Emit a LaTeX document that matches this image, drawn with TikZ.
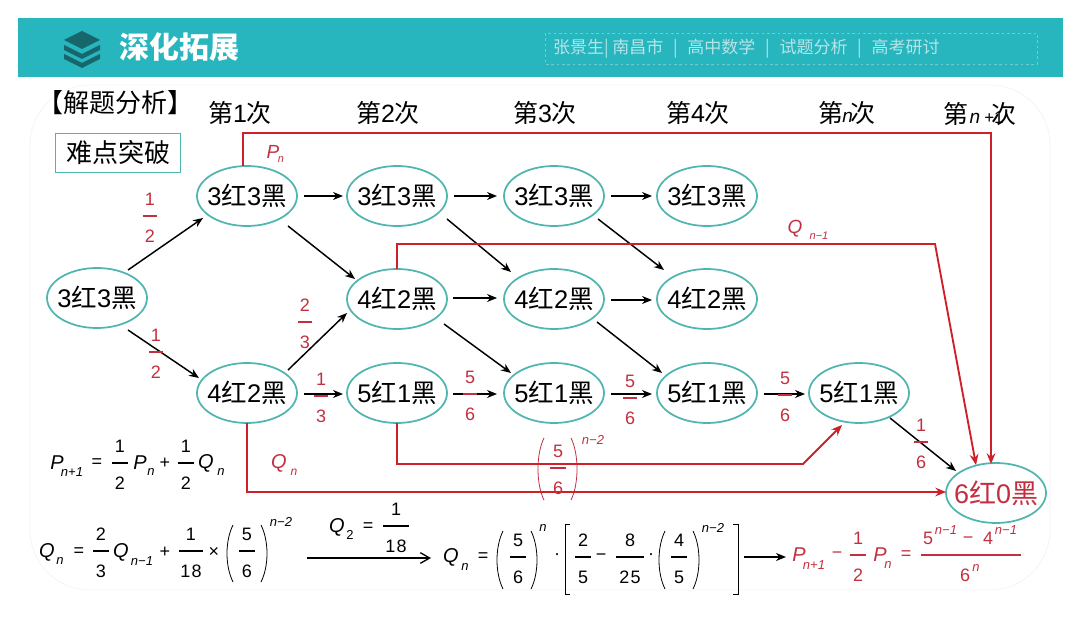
\documentclass[tikz,border=0pt]{standalone}
\usepackage{fontspec}
\setmainfont{Liberation Sans}
\newfontfamily\cjk{Noto Sans CJK SC}
\usetikzlibrary{arrows.meta,shapes.geometric}
\definecolor{band}{HTML}{27B5BE}
\definecolor{bandtxt}{HTML}{B5E5E8}
\definecolor{icon}{HTML}{17666C}
\definecolor{oval}{HTML}{4FB5AF}
\definecolor{redline}{HTML}{CF1F28}
\definecolor{redtxt}{HTML}{C23040}
\newcount\tn
% px-sized fonts (1px = .75pt)
\newcommand\px[1]{\fontsize{\dimexpr#1pt*3/4\relax}{\dimexpr#1pt*3/4\relax}\selectfont}
% generic text piece
\newcommand\T[4]{\global\advance\tn by 1 \node[txt,font=\px{#3}] (t\the\tn) at (#1,#2) {#4};}
\newcommand\I[4]{\T{#1}{#2}{#3}{\textit{#4}}}
% fraction: x, rule y, half width, num, den
\newcommand\Fr[5]{\T{#1}{\the\numexpr#2-17\relax}{18}{#4}\T{#1}{\the\numexpr#2+20\relax}{18}{#5}
  \draw[line width=.8pt] (#1-#3,#2) -- (#1+#3,#2);}
% parens: left x, right x, top y, bottom y
\newcommand\Pa[4]{\draw[line width=.6pt] (#1+5,#3) .. controls (#1-3,#3+16) and (#1-3,#4-16) .. (#1+5,#4);
  \draw[line width=.6pt] (#2-5,#3) .. controls (#2+3,#3+16) and (#2+3,#4-16) .. (#2-5,#4);}
% connector: style, from node, dx, dy, to node, dx, dy
\newcommand\Cn[7]{\draw[#1] ([shift={(#3,#4)}]#2.center) -- ([shift={(#6,#7)}]#5.center);}
\newcommand\RB[3][25.5]{\makebox[0pt]{\px{#1}#2{\cjk 红}#3{\cjk 黑}}}
\newcommand\Sp{\kern7.3pt|\kern7.3pt}
\tikzset{
  x=.75pt,y=-.75pt,
  txt/.style={inner sep=0pt,outer sep=0pt},
  oval/.style={ellipse,draw=oval,line width=1.3pt,fill=white,minimum width=75pt,minimum height=45pt,inner sep=0pt},
  arr/.style={line width=1.1pt,-{Stealth[length=7.5pt,width=6pt]}},
  redarr/.style={draw=redline,line width=1.4pt,-{Stealth[length=8pt,width=6.5pt]}},
}
\begin{document}
\begin{tikzpicture}
\useasboundingbox (0,0) rectangle (1080,623);
\fill[white] (0,0) rectangle (1080,623);
% panel
\draw[draw=black!4,line width=.6pt,rounded corners=45pt] (30,85) rectangle (1050,590);
% header
\fill[band] (18,18) rectangle (1063,77);
\fill[icon] (82,31) -- (100,40) -- (82,49) -- (64,40) -- cycle;
\fill[icon] (64,45) -- (82,54) -- (100,45) -- (100,50) -- (82,59) -- (64,50) -- cycle;
\fill[icon] (64,54) -- (82,63) -- (100,54) -- (100,59) -- (82,68) -- (64,59) -- cycle;
\node[txt,text=white,font=\cjk\bfseries\px{30}] (title) at (179,47) {深化拓展};
\draw[bandtxt,line width=.4pt,dash pattern=on 2pt off 2pt,opacity=.5] (545,33) rectangle (1037,64);
\node[txt,text=bandtxt,anchor=west,font=\cjk\px{17}] (tags) at (553,49) {张景生| 南昌市\Sp 高中数学\Sp 试题分析\Sp 高考研讨};
% titles
\node[txt,font=\cjk\px{26}] (sol) at (115,103) {【解题分析】};
\node[draw=oval,line width=1.2pt,minimum width=94pt,minimum height=29pt,inner sep=0pt,font=\cjk\px{26}] (hard) at (118,153) {难点突破};
% headings
\node[txt,font=\px{25}] (h1) at (240,113) {{\cjk 第}1{\cjk 次}};
\node[txt,font=\px{25}] (h2) at (388,113) {{\cjk 第}2{\cjk 次}};
\node[txt,font=\px{25}] (h3) at (545,113) {{\cjk 第}3{\cjk 次}};
\node[txt,font=\px{25}] (h4) at (698,113) {{\cjk 第}4{\cjk 次}};
\node[txt,font=\px{25}] (h5) at (847,113) {{\cjk 第}\kern-1pt{\px{19}\textit{n}}\kern-2pt{\cjk 次}};
\node[txt,font=\px{25}] (h6) at (980,114) {{\cjk 第}\kern1pt{\px{19}\textit{n}}\kern3pt{\px{17}+1}\kern-9pt{\cjk 次}};
% ovals
\node[oval] (s) at (97,298) {\RB{3}{3}};
\node[oval] (a1) at (247,196) {\RB{3}{3}};
\node[oval] (a2) at (397,196) {\RB{3}{3}};
\node[oval] (a3) at (554,196) {\RB{3}{3}};
\node[oval] (a4) at (707,196) {\RB{3}{3}};
\node[oval] (b2) at (397,299) {\RB{4}{2}};
\node[oval] (b3) at (554,299) {\RB{4}{2}};
\node[oval] (b4) at (707,299) {\RB{4}{2}};
\node[oval] (c1) at (247,393) {\RB{4}{2}};
\node[oval] (c2) at (397,393) {\RB{5}{1}};
\node[oval] (c3) at (554,393) {\RB{5}{1}};
\node[oval] (c4) at (707,393) {\RB{5}{1}};
\node[oval] (c5) at (859,393) {\RB{5}{1}};
\node[oval,text=redtxt] (e) at (996,493) {\RB[27]{6}{0}};
% black arrows
\Cn{arr}{s}{31}{-28}{a1}{-44}{22}
\Cn{arr}{s}{31}{32}{c1}{-48}{-15}
\Cn{arr}{a1}{57}{0}{a2}{-54}{0}
\Cn{arr}{a2}{57}{0}{a3}{-57}{0}
\Cn{arr}{a3}{57}{0}{a4}{-55}{0}
\Cn{arr}{a1}{41}{30}{b2}{-42}{-20}
\Cn{arr}{a2}{50}{23}{b3}{-43}{-27}
\Cn{arr}{a3}{44}{23}{b4}{-43}{-29}
\Cn{arr}{b2}{56}{-1}{b3}{-57}{-1}
\Cn{arr}{b3}{57}{1}{b4}{-55}{1}
\Cn{arr}{c1}{41}{-23}{b2}{-50}{14}
\Cn{arr}{b2}{47}{25}{c3}{-43}{-20}
\Cn{arr}{b3}{43}{23}{c4}{-45}{-20}
\Cn{arr}{c1}{57}{1}{c2}{-54}{1}
\Cn{arr}{c2}{56}{1}{c3}{-57}{1}
\Cn{arr}{c3}{57}{1}{c4}{-55}{1}
\Cn{arr}{c4}{57}{1}{c5}{-54}{1}
\Cn{arr}{c5}{31}{25}{e}{-40}{-22}
% red paths
\coordinate (p1) at (991,133);
\coordinate (q1) at (397,244);
\coordinate (q2) at (935,244);
\coordinate (r1) at (397,464);
\coordinate (r2) at (803,464);
\coordinate (u1) at (247,492);
\draw[redarr] ([shift={(-4,-30)}]a1.center) |- (p1) -- ([shift={(-5,-29)}]e.center);
\draw[redarr] ([shift={(0,-30)}]b2.center) -- (q1) -- (q2) -- ([shift={(-20,-28)}]e.center);
\draw[redarr] ([shift={(0,30)}]c2.center) -- (r1) -- (r2) -- ([shift={(-17,32)}]c5.center);
\draw[redarr] ([shift={(0,30)}]c1.center) -- (u1) -- ([shift={(-50,-1)}]e.center);
% red labels
\begin{scope}[color=redtxt]
\Fr{150}{216}{7}{1}{2}
\Fr{156}{352}{7}{1}{2}
\Fr{305}{322}{7}{2}{3}
\Fr{321}{396}{7}{1}{3}
\Fr{470}{394}{7}{5}{6}
\Fr{630}{398}{7}{5}{6}
\Fr{785}{395}{7}{5}{6}
\Fr{921}{442}{7}{1}{6}
\Fr{558}{468}{8}{5}{6}
\Pa{539}{576}{438}{500}
\I{593}{440}{13}{n−2}
\I{273}{152}{19}{P}
\I{281}{160}{11}{n}
\I{795}{229}{19}{Q}
\I{819}{236}{11}{n−1}
\I{279}{463}{20}{Q}
\I{294}{472}{12}{n}
% result formula
\I{799}{555}{20}{P}
\I{814}{565}{13}{n+1}
\T{837}{555}{18}{−}
\Fr{858}{555}{8}{1}{2}
\I{880}{555}{20}{P}
\I{888}{565}{13}{n}
\T{906}{555}{18}{=}
\draw[line width=.9pt] (921,555) -- (1021,555);
\T{928}{538}{18}{5}
\I{946}{530}{13}{n−1}
\T{968}{540}{18}{−}
\T{988}{538}{18}{4}
\I{1006}{530}{13}{n−1}
\T{965}{575}{18}{6}
\I{976}{568}{13}{n}
\end{scope}
% black formulas
\I{57}{463}{20}{P}
\I{72}{472}{13}{n+1}
\T{97}{463}{18}{=}
\Fr{120}{463}{8}{1}{2}
\I{140}{463}{20}{P}
\I{151}{472}{13}{n}
\T{165}{463}{18}{+}
\Fr{186}{463}{8}{1}{2}
\I{206}{463}{20}{Q}
\I{221}{472}{13}{n}
%
\I{47}{552}{20}{Q}
\I{60}{561}{13}{n}
\T{79}{552}{18}{=}
\Fr{101}{551}{8}{2}{3}
\I{121}{552}{20}{Q}
\I{142}{561}{13}{n−1}
\T{165}{552}{18}{+}
\Fr{191}{551}{12}{1}{1\kern1pt8}
\T{214}{552}{18}{×}
\Fr{247}{551}{8}{5}{6}
\Pa{228}{266}{525}{582}
\I{281}{522}{13}{n−2}
%
\I{337}{527}{20}{Q}
\T{350}{535}{13}{2}
\T{368}{527}{18}{=}
\Fr{396}{526}{13}{1}{1\kern1pt8}
\coordinate (ar1) at (307,558);
\coordinate (ar2) at (431,558);
\draw[line width=1pt,-{Straight Barb[length=7pt,width=8pt]}] (ar1) -- (ar2);
\I{451}{557}{20}{Q}
\I{465}{567}{13}{n}
\T{483}{557}{18}{=}
\Fr{518}{557}{8}{5}{6}
\Pa{498}{536}{531}{589}
\I{543}{528}{13}{n}
\T{557}{557}{18}{·}
\draw[line width=.6pt] (570,524) -- (565,524) -- (565,594) -- (570,594);
\Fr{583}{557}{8}{2}{5}
\T{601}{557}{18}{−}
\Fr{630}{557}{14}{8}{2\kern1pt5}
\T{651}{557}{18}{·}
\Fr{679}{557}{8}{4}{5}
\Pa{660}{698}{531}{589}
\I{713}{528}{13}{n−2}
\draw[line width=.6pt] (733,524) -- (738,524) -- (738,594) -- (733,594);
\coordinate (ar3) at (744,557);
\coordinate (ar4) at (786,557);
\draw[arr] (ar3) -- (ar4);
\end{tikzpicture}
\end{document}
